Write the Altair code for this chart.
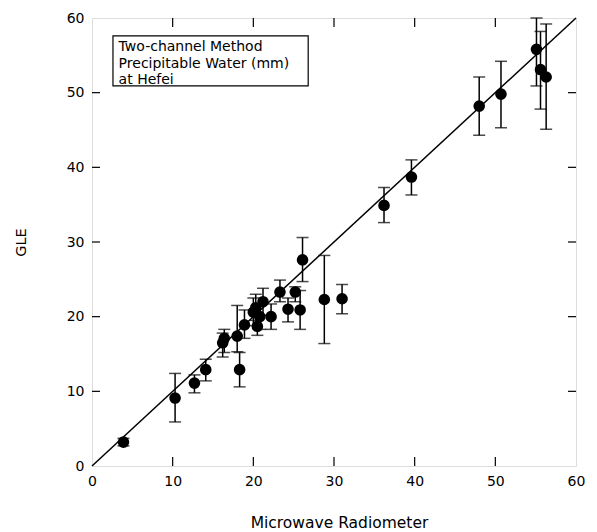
import altair as alt
import pandas as pd

# Data
mr = [3.9, 10.3, 12.7, 14.1, 16.2, 16.4, 18.0, 18.3, 18.9, 20.0, 20.3, 20.5, 20.8, 21.2, 22.2,
      23.3, 24.3, 25.2, 25.8, 26.1, 28.8, 31.0, 36.2, 39.6, 48.0, 50.7, 55.1, 55.6, 56.3]
gle = [3.2, 9.1, 11.1, 12.9, 16.5, 17.1, 17.4, 12.9, 18.9, 20.6, 21.2, 18.7, 20.0, 22.0, 20.0,
       23.3, 21.0, 23.3, 20.9, 27.6, 22.3, 22.4, 34.9, 38.7, 48.2, 49.8, 55.8, 53.1, 52.1]
err_lo = [2.7, 5.9, 9.8, 11.4, 14.6, 15.2, 15.3, 10.6, 17.1, 18.8, 19.5, 17.5, 18.3, 20.2, 18.3,
          22.0, 19.3, 22.0, 18.3, 24.7, 16.4, 20.4, 32.6, 36.3, 44.3, 45.3, 50.9, 47.8, 45.1]
err_hi = [3.7, 12.4, 12.2, 14.3, 17.8, 18.3, 21.5, 15.2, 20.9, 22.5, 23.0, 20.0, 21.7, 23.8, 21.7,
          24.9, 22.5, 24.0, 23.5, 30.6, 28.2, 24.3, 37.3, 41.0, 52.1, 54.2, 60.0, 58.2, 59.2]

line_x = [0, 60]
line_y = [0, 60]

tick_values = [10, 20, 30, 40, 50]
axis_values = [0, 10, 20, 30, 40, 50, 60]

box_x, box_x2, box_y, box_y2 = [2.6], [26.8], [50.9], [57.6]
note_lines = ["Two-channel Method", "Precipitable Water (mm)", "at Hefei"]
note_x = [3.3, 3.3, 3.3]
note_y = [56.15, 53.9, 51.75]

FONT = "DejaVu Sans"

df = pd.DataFrame({"mr": mr, "gle": gle, "lo": err_lo, "hi": err_hi})
line_df = pd.DataFrame({"x": line_x, "y": line_y})
ticks_df = pd.DataFrame({"t": tick_values})
box_df = pd.DataFrame({"x": box_x, "x2": box_x2, "y": box_y, "y2": box_y2})
note_df = pd.DataFrame({"text": note_lines, "x": note_x, "y": note_y})

xs = alt.Scale(domain=[0, 60], nice=False)
ys = alt.Scale(domain=[0, 60], nice=False)

xaxis = alt.Axis(values=axis_values, grid=False, ticks=False, domain=False, labelFont=FONT,
                 labelFontSize=14, labelColor="black", labelPadding=8, labelFlush=False,
                 title="Microwave Radiometer",
                 titleFont=FONT, titleFontSize=15.5, titleFontWeight="normal", titleColor="black",
                 titleX=247, titleY=56, titleBaseline="middle")
yaxis = alt.Axis(values=axis_values, grid=False, ticks=False, domain=False, labelFont=FONT,
                 labelFontSize=14, labelColor="black", labelPadding=8, labelFlush=False,
                 title="GLE",
                 titleFont=FONT, titleFontSize=14.5, titleFontWeight="normal", titleColor="black",
                 titleX=-71, titleY=224, titleBaseline="middle", titleAngle=-90)

base = alt.Chart(df)

diag = alt.Chart(line_df).mark_line(color="black", strokeWidth=1.5).encode(
    x=alt.X("x:Q", scale=xs, axis=xaxis),
    y=alt.Y("y:Q", scale=ys, axis=yaxis),
)

bars = base.mark_rule(color="black", strokeWidth=1.5).encode(
    x=alt.X("mr:Q", scale=xs), y=alt.Y("lo:Q", scale=ys), y2="hi:Q")
cap_lo = base.mark_tick(color="black", orient="horizontal", size=12, thickness=1.5).encode(
    x=alt.X("mr:Q", scale=xs), y=alt.Y("lo:Q", scale=ys))
cap_hi = base.mark_tick(color="black", orient="horizontal", size=12, thickness=1.5).encode(
    x=alt.X("mr:Q", scale=xs), y=alt.Y("hi:Q", scale=ys))
pts = base.mark_circle(color="black", opacity=1, size=135).encode(
    x=alt.X("mr:Q", scale=xs), y=alt.Y("gle:Q", scale=ys))

box = alt.Chart(box_df).mark_rect(fill="white", stroke="black", strokeWidth=1.2).encode(
    x=alt.X("x:Q", scale=xs), x2="x2:Q", y=alt.Y("y:Q", scale=ys), y2="y2:Q")
note = alt.Chart(note_df).mark_text(align="left", baseline="middle", font=FONT, fontSize=14,
                                    color="black").encode(
    x=alt.X("x:Q", scale=xs), y=alt.Y("y:Q", scale=ys), text="text:N")

tk = alt.Chart(ticks_df)
t_bottom = tk.mark_rule(color="black", strokeWidth=1.2).encode(
    x=alt.X("t:Q", scale=xs), y=alt.value(448), y2=alt.value(439))
t_top = tk.mark_rule(color="black", strokeWidth=1.2).encode(
    x=alt.X("t:Q", scale=xs), y=alt.value(0), y2=alt.value(9))
t_left = tk.mark_rule(color="black", strokeWidth=1.2).encode(
    y=alt.Y("t:Q", scale=ys), x=alt.value(0), x2=alt.value(8))
t_right = tk.mark_rule(color="black", strokeWidth=1.2).encode(
    y=alt.Y("t:Q", scale=ys), x=alt.value(484), x2=alt.value(476))

chart = alt.layer(diag, bars, cap_lo, cap_hi, pts, box, note, t_bottom, t_top, t_left, t_right).properties(
    width=484, height=448,
    autosize=alt.AutoSizeParams(type="none"),
    padding={"left": 84, "top": 10, "right": 12, "bottom": 66},
).configure_view(stroke="black", strokeWidth=1.5).configure(background="white")

chart.save("out.html", embed_options={"renderer": "svg", "actions": False})
